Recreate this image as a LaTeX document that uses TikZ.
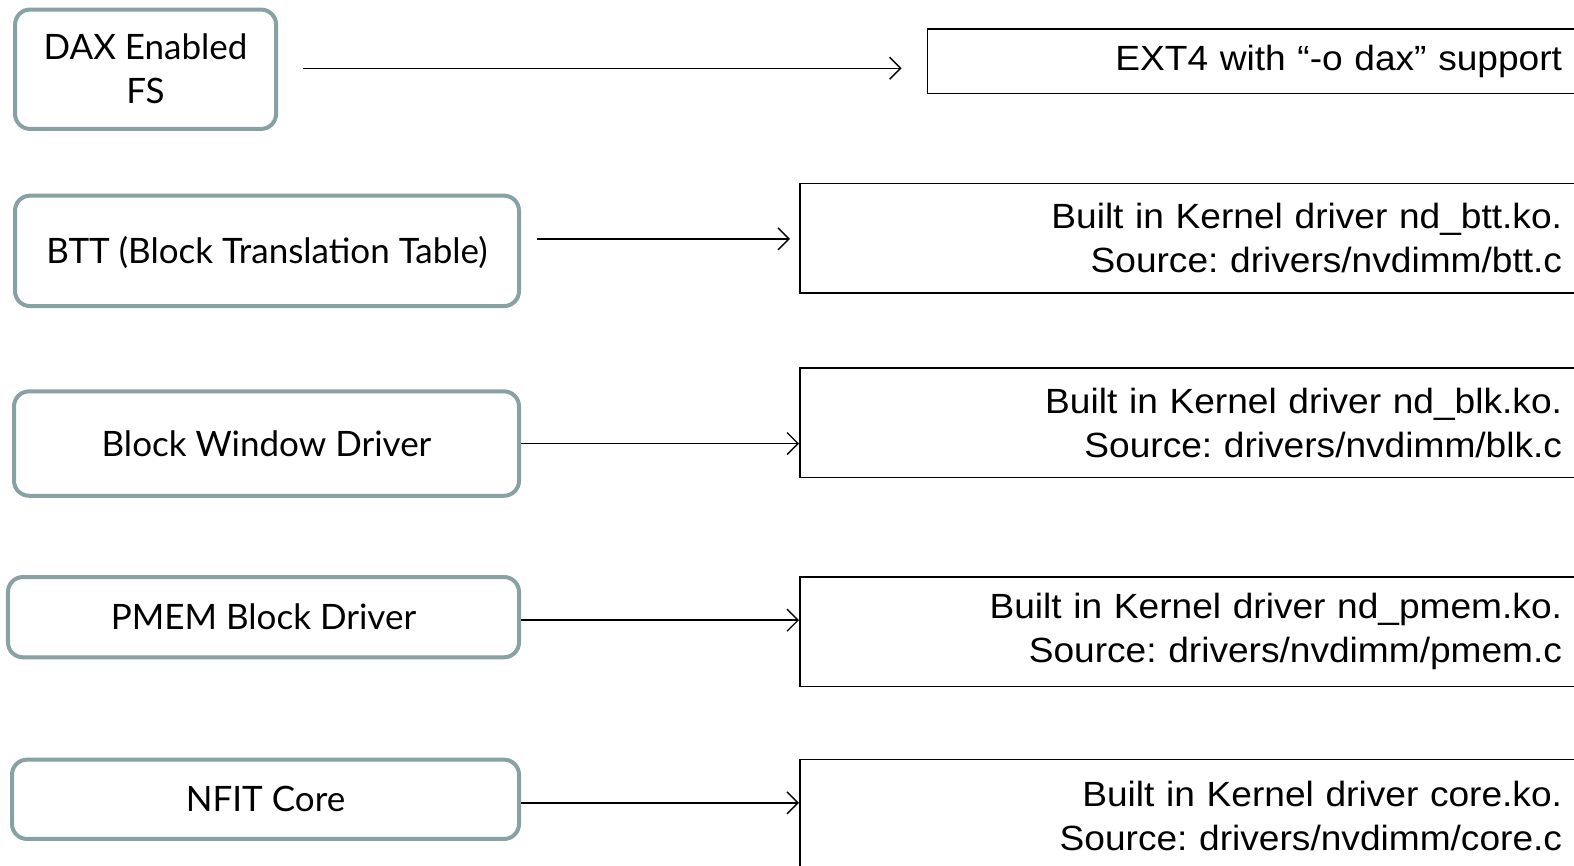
\documentclass[tikz,border=0pt]{standalone}
\usepackage{fontspec}
\usetikzlibrary{arrows.meta}
\setmainfont{Lato}
\newfontfamily\rfont[FakeStretch=1.06]{Liberation Sans}
\frenchspacing
\definecolor{boxgray}{HTML}{87A1A4}
\tikzset{
  lbox/.style={draw=boxgray, line width=4pt, rounded corners=15pt, fill=white,
    align=center, inner sep=0pt, font=\fontsize{35}{44}\selectfont},
  lone/.style={lbox, text height=25pt, text depth=0pt},
  rbox/.style={draw=black, line width=1.6pt, anchor=west, align=right,
    inner xsep=30pt, inner ysep=0pt, font=\rfont\fontsize{35}{44}\selectfont},
  conn/.style={line width=1.4pt, -{Straight Barb[length=11pt,width=22pt,line width=1.4pt]}}
}
\begin{document}
\begin{tikzpicture}[x=1.0038pt,y=-1.0035pt]
\useasboundingbox (0,0) rectangle (1568,862);
% left boxes
\node[lbox, minimum width=261pt, minimum height=119.4pt] (dax) at (145,69) {DAX Enabled\\FS};
\node[lone, minimum width=504pt, minimum height=110.4pt] (btt) at (266,250) {BTT (Block Translation Table)};
\node[lone, minimum width=505pt, minimum height=104.4pt] (bw) at (265.5,442) {Block Window Driver};
\node[lone, minimum width=511pt, minimum height=80.3pt] (pmem) at (262.5,615) {PMEM Block Driver};
\node[lone, minimum width=507pt, minimum height=79.3pt] (nfit) at (264.5,796.5) {NFIT Core};
% right boxes
\node[rbox, text width=604.7pt, minimum height=64.2pt] (ext) at (923,61) {EXT4 with “-o dax” support};
\node[rbox, text width=732.2pt, minimum height=109.4pt] (rbtt) at (796,237.5) {Built in Kernel driver nd\_btt.ko.\\Source: drivers/nvdimm/btt.c};
\node[rbox, text width=732.2pt, minimum height=109.4pt] (rblk) at (796,421.5) {Built in Kernel driver nd\_blk.ko.\\Source: drivers/nvdimm/blk.c};
\node[rbox, text width=732.2pt, minimum height=109.4pt] (rpmem) at (796,629.5) {Built in Kernel driver nd\_pmem.ko.\\Source: drivers/nvdimm/pmem.c};
\node[rbox, text width=732.2pt, minimum height=112.4pt] (rcore) at (796,813) {Built in Kernel driver core.ko.\\Source: drivers/nvdimm/core.c};
% connectors
\draw[conn, shorten <=25pt, shorten >=25pt] (dax.east |- 0,68) -- (ext.west |- 0,68);
\draw[conn, shorten <=16pt, shorten >=9pt] (btt.east |- 0,238) -- (rbtt.west |- 0,238);
\draw[conn] (bw.east |- 0,442) -- (rblk.west |- 0,442);
\draw[conn] (pmem.east |- 0,618) -- (rpmem.west |- 0,618);
\draw[conn] (nfit.east |- 0,800) -- (rcore.west |- 0,800);
\end{tikzpicture}
\end{document}
